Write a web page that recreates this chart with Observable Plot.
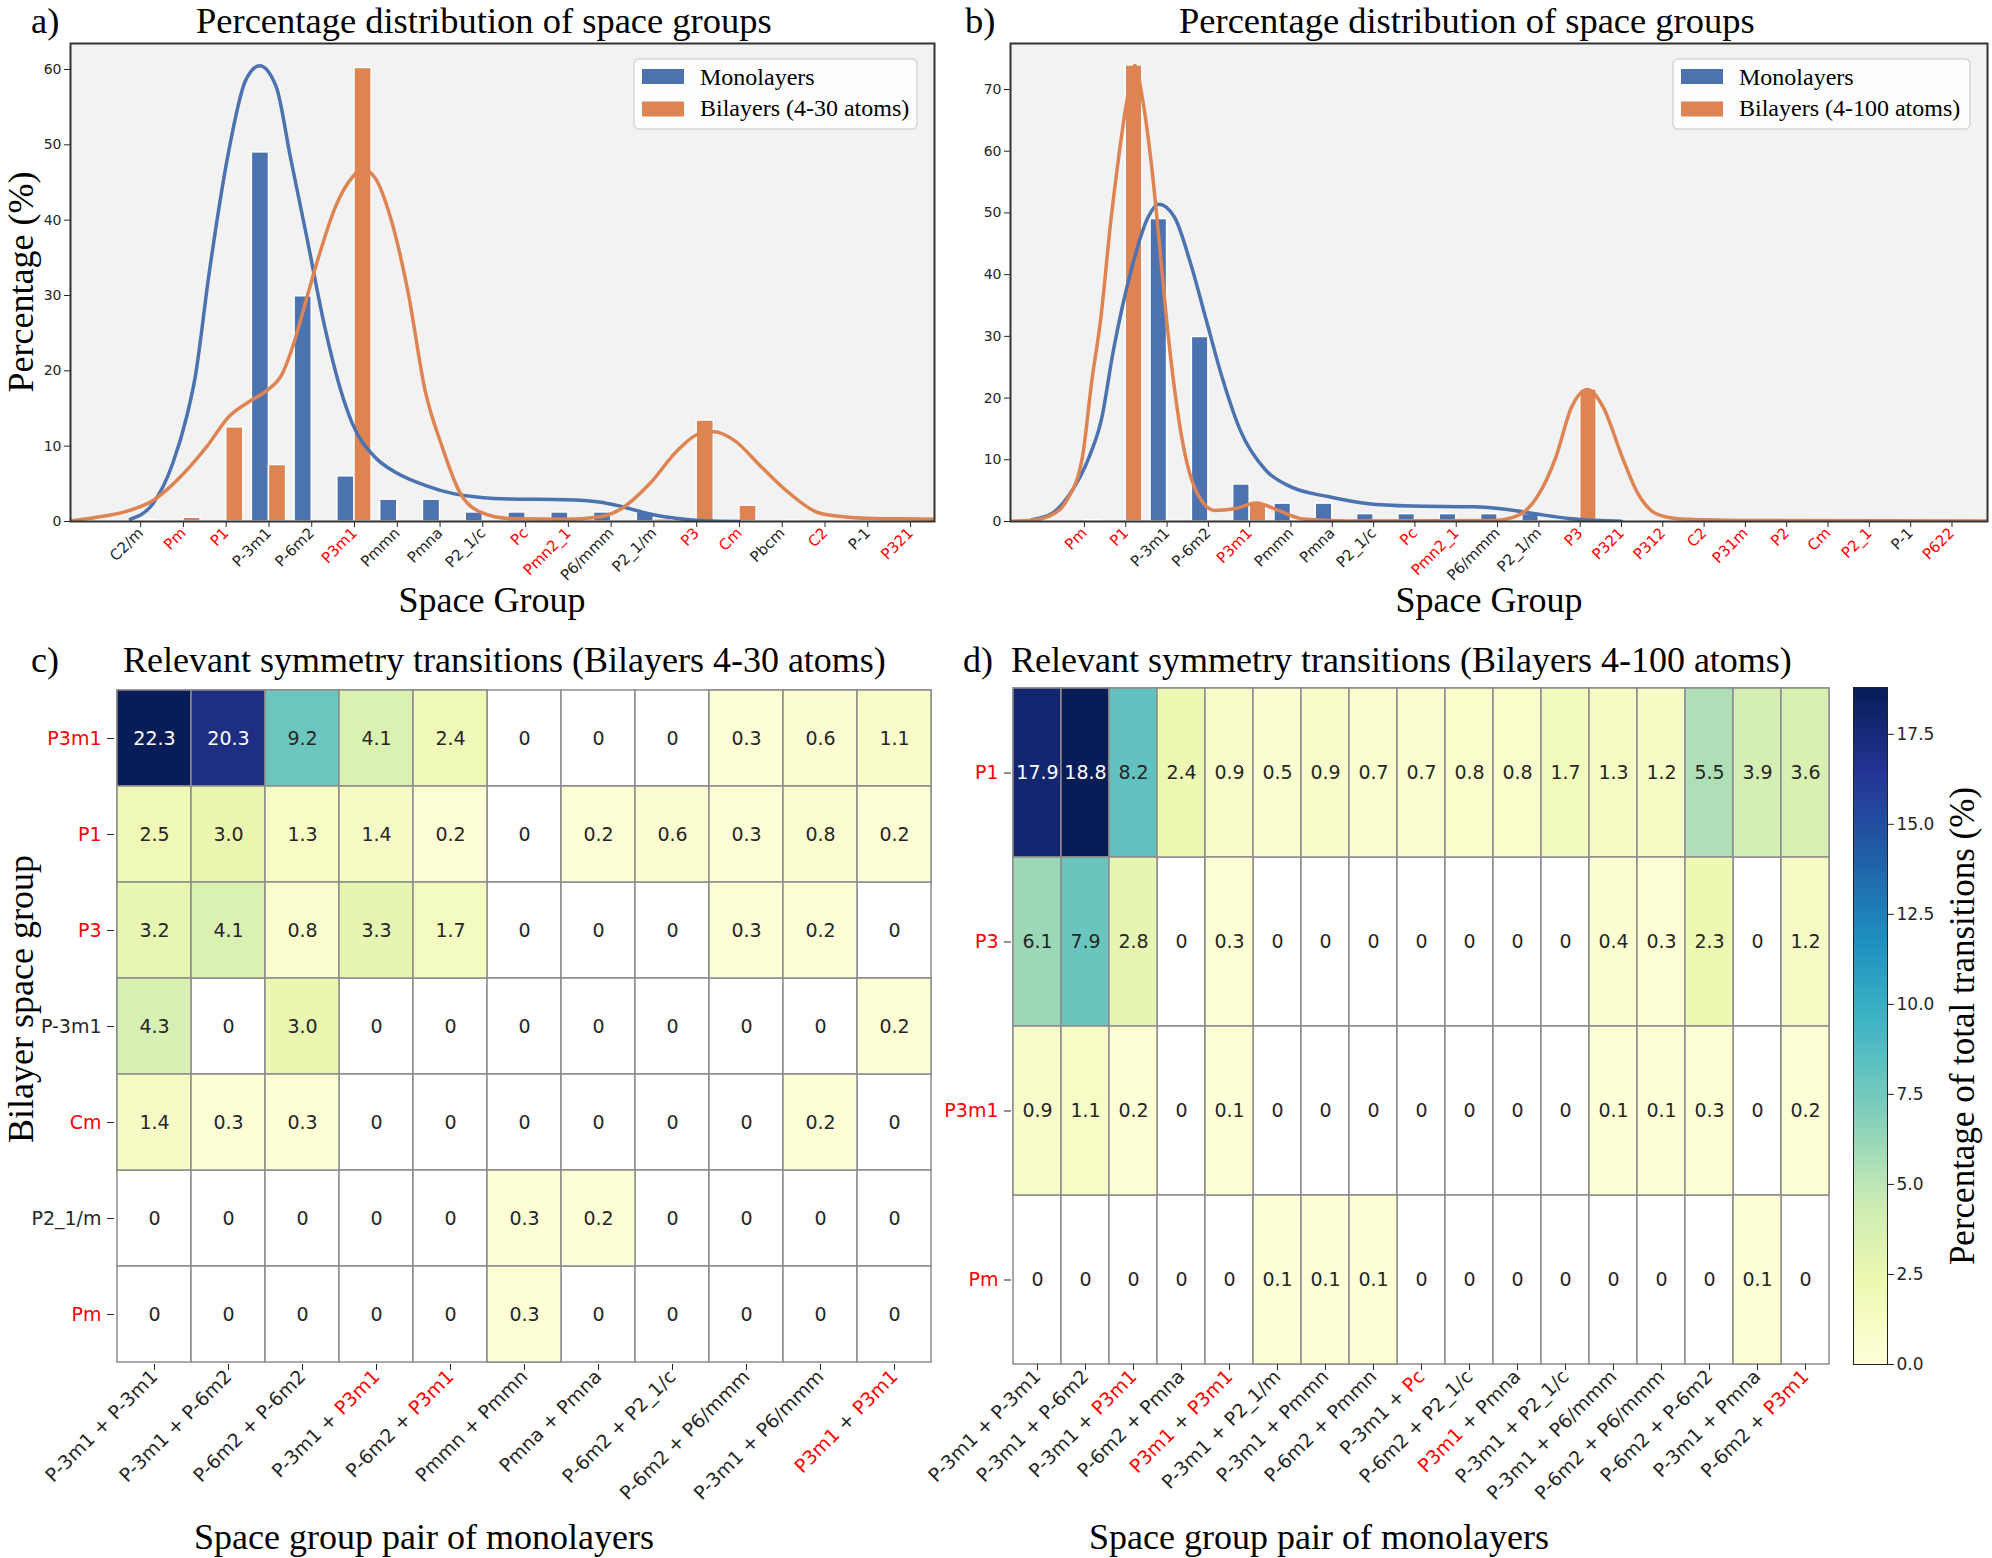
<!DOCTYPE html>
<html>
<head>
<meta charset="utf-8">
<script src="https://cdn.jsdelivr.net/npm/d3@7"></script>
<script src="https://cdn.jsdelivr.net/npm/@observablehq/plot@0.6"></script>
<style>
  html, body { margin: 0; padding: 0; background: #fff; }
  #root { position: relative; width: 1992px; height: 1558px; overflow: hidden; background: #fff; }
  #root > div { position: absolute; }
  #root svg { overflow: visible; }
  text { white-space: pre; }
</style>
</head>
<body>
<div id="root"></div>
<script>
// ---------------- DATA ----------------
// Panel a (bilayers 4-30 atoms)
const groupsA = ["C2/m","Pm","P1","P-3m1","P-6m2","P3m1","Pmmn","Pmna","P2_1/c","Pc","Pmn2_1","P6/mmm","P2_1/m","P3","Cm","Pbcm","C2","P-1","P321"];
const monoA   = [0, 0, 0, 49.0, 29.9, 6.0, 2.9, 2.9, 1.2, 1.2, 1.2, 1.2, 1.2, 0, 0, 0, 0, 0, 0];
const biA     = [0.2, 0.5, 12.5, 7.5, 0, 60.2, 0, 0, 0, 0, 0, 0, 0.3, 13.4, 2.1, 0.1, 0, 0, 0];
// KDE curves (x in category-index units)
const monoKdeA_x = [-0.24, 0.29, 0.75, 1.08, 1.27, 1.60, 2.06, 2.45, 2.78, 3.17, 3.50, 3.90, 4.29, 4.68, 4.95, 5.47, 6.00, 6.65, 7.31, 7.96, 8.62, 9.93, 10.72, 11.24, 11.90, 12.56, 13.20, 14.00];
const monoKdeA_y = [0.3, 2.4, 7.7, 14.0, 19.0, 32.9, 49.2, 58.5, 60.5, 57.7, 48.4, 37.3, 26.2, 17.4, 13.0, 8.6, 6.4, 4.8, 3.7, 3.2, 3.0, 2.9, 2.6, 2.0, 1.0, 0.4, 0.1, 0.0];
const biKdeA_x = [-1.64, -1.09, -0.24, 0.29, 1.01, 1.54, 2.06, 2.59, 2.98, 3.30, 3.60, 3.90, 4.16, 4.55, 4.95, 5.18, 5.47, 5.86, 6.26, 6.65, 7.05, 7.44, 7.96, 8.62, 9.93, 10.72, 11.24, 11.90, 12.56, 13.08, 13.41, 13.87, 14.52, 15.18, 15.83, 16.49, 17.15, 17.80, 18.56];
const biKdeA_y = [0.1, 0.5, 1.5, 2.8, 6.4, 9.9, 13.9, 16.1, 17.5, 19.5, 24.0, 30.0, 35.1, 41.7, 45.7, 46.8, 45.7, 40.0, 30.2, 17.4, 9.9, 4.1, 1.2, 0.4, 0.3, 0.6, 1.7, 5.0, 9.5, 11.7, 11.9, 10.8, 7.2, 3.7, 1.2, 0.6, 0.4, 0.35, 0.3];
const yTicksA = [0, 10, 20, 30, 40, 50, 60];

// Panel b (bilayers 4-100 atoms)
const groupsB = ["Pm","P1","P-3m1","P-6m2","P3m1","Pmmn","Pmna","P2_1/c","Pc","Pmn2_1","P6/mmm","P2_1/m","P3","P321","P312","C2","P31m","P2","Cm","P2_1","P-1","P622"];
const monoB   = [0, 0, 49.0, 29.9, 6.0, 2.9, 2.9, 1.2, 1.2, 1.2, 1.2, 1.2, 0, 0, 0, 0, 0, 0, 0, 0, 0, 0];
const biB     = [0.2, 73.9, 0.1, 0, 2.9, 0, 0, 0, 0, 0, 0, 0, 21.4, 0.1, 0, 0, 0, 0, 0, 0, 0, 0];
const monoKdeB_x = [-1.27, -0.81, -0.35, 0.11, 0.41, 0.70, 1.15, 1.54, 1.80, 2.18, 2.57, 2.95, 3.33, 3.77, 4.39, 5.00, 5.92, 6.83, 7.90, 9.43, 10.19, 10.96, 11.72, 12.49, 13.00];
const monoKdeB_y = [0.3, 1.2, 4.5, 10.4, 16.5, 27.7, 41.2, 49.3, 51.4, 49.3, 41.8, 32.6, 23.4, 14.8, 8.3, 5.6, 4.0, 2.9, 2.5, 2.4, 2.0, 1.2, 0.5, 0.15, 0.05];
const biKdeB_x = [-1.79, -1.27, -0.81, -0.43, -0.05, 0.18, 0.39, 0.64, 0.84, 1.03, 1.22, 1.41, 1.61, 1.80, 1.99, 2.17, 2.40, 2.70, 3.16, 3.62, 4.16, 4.69, 5.30, 6.37, 9.89, 10.50, 10.96, 11.41, 11.79, 12.18, 12.56, 13.02, 13.40, 13.86, 14.47, 16.30, 21.86];
const biKdeB_y = [0.05, 0.2, 1.0, 3.4, 10.4, 22.9, 32.6, 48.8, 59.6, 68.3, 73.9, 68.3, 58.5, 46.1, 32.6, 22.0, 12.0, 5.0, 1.8, 2.05, 3.0, 1.8, 0.4, 0.1, 0.15, 1.0, 4.0, 10.4, 18.5, 21.4, 18.5, 10.4, 4.5, 1.2, 0.4, 0.15, 0.1];
const yTicksB = [0, 10, 20, 30, 40, 50, 60, 70];

// Panel c heatmap
const pairsC = ["P-3m1 + P-3m1","P-3m1 + P-6m2","P-6m2 + P-6m2","P-3m1 + P3m1","P-6m2 + P3m1","Pmmn + Pmmn","Pmna + Pmna","P-6m2 + P2_1/c","P-6m2 + P6/mmm","P-3m1 + P6/mmm","P3m1 + P3m1"];
const bilayersC = ["P3m1","P1","P3","P-3m1","Cm","P2_1/m","Pm"];
const valuesC = [
  [22.3, 20.3, 9.2, 4.1, 2.4, 0, 0, 0, 0.3, 0.6, 1.1],
  [2.5, 3.0, 1.3, 1.4, 0.2, 0, 0.2, 0.6, 0.3, 0.8, 0.2],
  [3.2, 4.1, 0.8, 3.3, 1.7, 0, 0, 0, 0.3, 0.2, 0],
  [4.3, 0, 3.0, 0, 0, 0, 0, 0, 0, 0, 0.2],
  [1.4, 0.3, 0.3, 0, 0, 0, 0, 0, 0, 0.2, 0],
  [0, 0, 0, 0, 0, 0.3, 0.2, 0, 0, 0, 0],
  [0, 0, 0, 0, 0, 0.3, 0, 0, 0, 0, 0]
];

// Panel d heatmap
const pairsD = ["P-3m1 + P-3m1","P-3m1 + P-6m2","P-3m1 + P3m1","P-6m2 + Pmna","P3m1 + P3m1","P-3m1 + P2_1/m","P-3m1 + Pmmn","P-6m2 + Pmmn","P-3m1 + Pc","P-6m2 + P2_1/c","P3m1 + Pmna","P-3m1 + P2_1/c","P-3m1 + P6/mmm","P-6m2 + P6/mmm","P-6m2 + P-6m2","P-3m1 + Pmna","P-6m2 + P3m1"];
const bilayersD = ["P1","P3","P3m1","Pm"];
const valuesD = [
  [17.9, 18.8, 8.2, 2.4, 0.9, 0.5, 0.9, 0.7, 0.7, 0.8, 0.8, 1.7, 1.3, 1.2, 5.5, 3.9, 3.6],
  [6.1, 7.9, 2.8, 0, 0.3, 0, 0, 0, 0, 0, 0, 0, 0.4, 0.3, 2.3, 0, 1.2],
  [0.9, 1.1, 0.2, 0, 0.1, 0, 0, 0, 0, 0, 0, 0, 0.1, 0.1, 0.3, 0, 0.2],
  [0, 0, 0, 0, 0, 0.1, 0.1, 0.1, 0, 0, 0, 0, 0, 0, 0, 0.1, 0]
];
const colorbarTicks = [0, 2.5, 5, 7.5, 10, 12.5, 15, 17.5];

// Space groups printed in red
const redGroups = ["Pm","P1","P3m1","Pc","Pmn2_1","P3","Cm","C2","P321","P312","P31m","P2","P2_1","P622"];

// ---------------- STYLE ----------------
const BLUE = "#4c72b0", ORANGE = "#dd8452", RED = "#ff0000";
const SERIF = "'Liberation Serif', 'Times New Roman', serif";
const SANS = "'DejaVu Sans', sans-serif";
const YLGNBU = ['#ffffd9','#edf8b1','#c7e9b4','#7fcdbb','#41b6c4','#1d91c0','#225ea8','#253494','#081d58'];
const ns = "http://www.w3.org/2000/svg";
const redSet = new Set(redGroups);
const root = document.getElementById("root");

function place(node, left, top) {
  const div = document.createElement("div");
  div.style.left = left + "px";
  div.style.top = top + "px";
  div.appendChild(node);
  root.appendChild(div);
}

function colorize(svg) {
  svg.querySelectorAll('g[aria-label$="tick label"] text').forEach(t => {
    const s = t.textContent;
    const parts = s.split(" + ");
    while (t.firstChild) t.removeChild(t.firstChild);
    parts.forEach((p, k) => {
      if (k > 0) {
        const sep = document.createElementNS(ns, "tspan");
        sep.textContent = " + ";
        t.appendChild(sep);
      }
      const sp = document.createElementNS(ns, "tspan");
      sp.textContent = p;
      if (redSet.has(p)) sp.setAttribute("fill", RED);
      t.appendChild(sp);
    });
  });
}

function colorScale(max) {
  return {type: "linear", domain: YLGNBU.map((_, i) => i * max / 8), range: YLGNBU, interpolate: "rgb"};
}

function distPlot(o) {
  const rows = o.groups.map((g, i) => ({i, g, mono: o.mono[i], bi: o.bi[i]}));
  const monoLine = o.monoX.map((x, k) => ({x, y: o.monoY[k]}));
  const biLine = o.biX.map((x, k) => ({x, y: o.biY[k]}));
  const svg = Plot.plot({
    width: o.width, height: 650,
    marginLeft: o.marginLeft, marginRight: o.marginRight, marginTop: 43, marginBottom: 129,
    x: {type: "linear", domain: o.xDomain, label: null},
    y: {type: "linear", domain: o.yDomain, label: null},
    style: {fontFamily: SANS, color: "#262626", background: "transparent", overflow: "visible"},
    marks: [
      Plot.frame({fill: "#f2f2f2", stroke: "none"}),
      Plot.rect(rows, {x1: d => d.i - 0.4, x2: d => d.i, y1: () => 0, y2: "mono", fill: BLUE, stroke: "white", strokeWidth: 1.5}),
      Plot.rect(rows, {x1: d => d.i, x2: d => d.i + 0.4, y1: () => 0, y2: "bi", fill: ORANGE, stroke: "white", strokeWidth: 1.5}),
      Plot.line(monoLine, {x: "x", y: "y", stroke: BLUE, strokeWidth: 3.5, curve: "monotone-x", clip: true}),
      Plot.line(biLine, {x: "x", y: "y", stroke: ORANGE, strokeWidth: 3.5, curve: "monotone-x", clip: true}),
      Plot.axisY(o.yTicks, {tickSize: 6, tickPadding: 3, fontSize: 14, label: null}),
      Plot.axisX(d3.range(o.groups.length), {tickFormat: i => o.groups[i], tickRotate: -45, tickSize: 6, tickPadding: 3, fontSize: 15, label: null}),
      Plot.frame({stroke: "#333", strokeWidth: 2})
    ]
  });
  colorize(svg);
  return svg;
}

function heatPlot(o) {
  const data = [];
  o.rows.forEach((r, i) => o.pairs.forEach((p, j) => data.push({pair: p, bil: r, v: o.values[i][j]})));
  const max = d3.max(data, d => d.v);
  const fmt = v => v === 0 ? "0" : v.toFixed(1);
  const svg = Plot.plot({
    width: o.width, height: 918,
    marginLeft: o.marginLeft, marginRight: o.marginRight, marginTop: 47, marginBottom: 194,
    x: {type: "band", domain: o.pairs, padding: 0, label: null},
    y: {type: "band", domain: o.rows, padding: 0, label: null},
    color: colorScale(max),
    style: {fontFamily: SANS, color: "#262626", background: "transparent", overflow: "visible"},
    marks: [
      Plot.cell(data, {x: "pair", y: "bil", fill: "white", stroke: "#8c8c8c", strokeWidth: 1.5, inset: 0}),
      Plot.cell(data.filter(d => d.v > 0), {x: "pair", y: "bil", fill: "v", stroke: "#8c8c8c", strokeWidth: 1.5, inset: 0}),
      Plot.text(data.filter(d => d.v / max <= 0.5), {x: "pair", y: "bil", text: d => fmt(d.v), fill: "#262626", fontSize: 19, fontFamily: SANS}),
      Plot.text(data.filter(d => d.v / max > 0.5), {x: "pair", y: "bil", text: d => fmt(d.v), fill: "white", fontSize: 19, fontFamily: SANS}),
      Plot.axisX({tickRotate: -45, tickSize: 6, tickPadding: 3, fontSize: 19, label: null}),
      Plot.axisY({tickSize: 7, tickPadding: 6, fontSize: 19, label: null})
    ]
  });
  colorize(svg);
  return {svg, max};
}

// ---------------- PANELS ----------------
place(distPlot({groups: groupsA, mono: monoA, bi: biA, monoX: monoKdeA_x, monoY: monoKdeA_y, biX: biKdeA_x, biY: biKdeA_y,
  xDomain: [-1.64, 18.56], yDomain: [0, 63.45], yTicks: yTicksA, width: 950, marginLeft: 70, marginRight: 16}), 0, 0);

place(distPlot({groups: groupsB, mono: monoB, bi: biB, monoX: monoKdeB_x, monoY: monoKdeB_y, biX: biKdeB_x, biY: biKdeB_y,
  xDomain: [-1.79, 21.86], yDomain: [0, 77.45], yTicks: yTicksB, width: 1052, marginLeft: 70, marginRight: 5}), 940, 0);

const hc = heatPlot({pairs: pairsC, rows: bilayersC, values: valuesC, width: 950, marginLeft: 114, marginRight: 17});
place(hc.svg, 0, 640);
const hd = heatPlot({pairs: pairsD, rows: bilayersD, values: valuesD, width: 900, marginLeft: 61, marginRight: 19});
place(hd.svg, 950, 640);

// colorbar for panel d
const maxD = hd.max;
const step = maxD / 300;
const cbVals = d3.range(0, maxD, step);
const cb = Plot.plot({
  width: 152, height: 918, marginLeft: 13, marginRight: 105, marginTop: 47, marginBottom: 194,
  y: {type: "linear", domain: [0, maxD], label: null},
  color: colorScale(maxD),
  style: {fontFamily: SANS, color: "#262626", background: "transparent", overflow: "visible"},
  marks: [
    Plot.rect(cbVals, {y1: d => d, y2: d => Math.min(maxD, d + step * 1.5), fill: d => d + step / 2}),
    Plot.frame({stroke: "#222", strokeWidth: 1}),
    Plot.axisY(colorbarTicks, {anchor: "right", tickFormat: d => d.toFixed(1), tickSize: 6, tickPadding: 3, fontSize: 17, label: null})
  ]
});
place(cb, 1840, 640);

// ---------------- TEXT OVERLAY ----------------
const ov = document.createElementNS(ns, "svg");
ov.setAttribute("width", 1992);
ov.setAttribute("height", 1558);
ov.style.position = "absolute";
ov.style.left = "0px";
ov.style.top = "0px";
ov.style.pointerEvents = "none";
root.appendChild(ov);

function addText(str, x, y, size, anchor = "start", rotate = 0) {
  const t = document.createElementNS(ns, "text");
  t.setAttribute("transform", `translate(${x},${y}) rotate(${rotate})`);
  t.setAttribute("font-family", SERIF);
  t.setAttribute("font-size", size);
  t.setAttribute("text-anchor", anchor);
  t.setAttribute("fill", "#000");
  t.textContent = str;
  ov.appendChild(t);
}
function addRect(x, y, w, h, fill, stroke, rx = 0, opacity = 1) {
  const r = document.createElementNS(ns, "rect");
  r.setAttribute("x", x); r.setAttribute("y", y);
  r.setAttribute("width", w); r.setAttribute("height", h);
  r.setAttribute("fill", fill);
  r.setAttribute("fill-opacity", opacity);
  if (stroke) { r.setAttribute("stroke", stroke); r.setAttribute("stroke-width", 1.5); }
  r.setAttribute("rx", rx);
  ov.appendChild(r);
}

addText("a)", 31, 33, 36.5);
addText("Percentage distribution of space groups", 196, 33, 36.5);
addText("b)", 965, 33, 36.5);
addText("Percentage distribution of space groups", 1179, 33, 36.5);
addText("Percentage (%)", 33, 282, 36, "middle", -90);
addText("Space Group", 492, 612, 36, "middle");
addText("Space Group", 1489, 612, 36, "middle");

addText("c)", 31, 672, 36);
addText("Relevant symmetry transitions (Bilayers 4-30 atoms)", 123, 672, 36);
addText("d)", 963, 672, 36);
addText("Relevant symmetry transitions (Bilayers 4-100 atoms)", 1011, 672, 36);
addText("Bilayer space group", 33, 999, 36, "middle", -90);
addText("Space group pair of monolayers", 424, 1549, 36, "middle");
addText("Space group pair of monolayers", 1319, 1549, 36, "middle");
addText("Percentage of total transitions (%)", 1974, 1026, 35, "middle", -90);

// legends
function legend(x, y, w, label2) {
  addRect(x, y, w, 70, "#ffffff", "#d6d6d6", 5, 0.8);
  addRect(x + 8, y + 10, 42, 15, BLUE, null);
  addRect(x + 8, y + 42.5, 42, 15, ORANGE, null);
  addText("Monolayers", x + 66, y + 26, 24);
  addText(label2, x + 66, y + 57, 24);
}
legend(634, 59, 283, "Bilayers (4-30 atoms)");
legend(1673, 59, 297, "Bilayers (4-100 atoms)");
</script>
</body>
</html>
